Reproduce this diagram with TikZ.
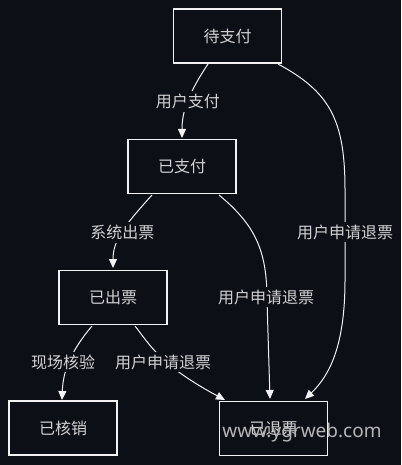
\documentclass[tikz,border=0pt]{standalone}
\usepackage{fontspec}
\setmainfont{Noto Sans CJK SC}
\newfontfamily\wmfont{Noto Sans}
\usetikzlibrary{arrows.meta}
\definecolor{bg}{HTML}{0D0F16}
\definecolor{txt}{HTML}{D2D2D2}
\definecolor{ln}{HTML}{F2F2F2}
\tikzset{
  state/.style={draw=ln, line width=1.4pt, fill=bg, text=txt, minimum width=108pt, minimum height=54pt, inner sep=0pt, font=\fontsize{16}{16}\selectfont},
  elabel/.style={fill=bg, text=txt, inner sep=3pt, font=\fontsize{16}{16}\selectfont},
  conn/.style={draw=ln, line width=1pt, -{Triangle[length=9pt,width=8pt]}},
}
\begin{document}
\begin{tikzpicture}[x=1pt,y=-1pt]
\fill[bg] (0,0) rectangle (401,465);
\useasboundingbox (0,0) rectangle (401,465);
% nodes
\node[state] (dzf) at (227.5,36) {待支付};
\node[state] (yzf) at (182,166.5) {已支付};
\node[state] (ycp) at (113,297.5) {已出票};
\node[state] (yhx) at (63,428) {已核销};
\node[state] (ytp) at (273.5,428.5) {已退票};
% edges
\draw[conn] (208,64) .. controls (188,94) and (182,112) .. (182,138)
  node[elabel, pos=0.48] (l1) {用户支付};
\draw[conn] (152,195) .. controls (125,225) and (113,240) .. (113,268)
  node[elabel, pos=0.5] (l2) {系统出票};
\draw[conn] (219,195) .. controls (255,225) and (267,250) .. (267,300) -- (270,399);
\node[elabel] (l3) at (266,297) {用户申请退票};
\draw[conn] (278,64) .. controls (330,92) and (345,120) .. (345,190) -- (345,280) .. controls (345,345) and (330,375) .. (305,399);
\node[elabel] (l4) at (345,232) {用户申请退票};
\draw[conn] (92,326) .. controls (70,352) and (63,372) .. (62,400);
\node[elabel] (l5) at (63,362) {现场核验};
\draw[conn] (135,326) .. controls (150,345) and (160,365) .. (225,400);
\node[elabel] (l6) at (163,362) {用户申请退票};
% watermark
\node[text=txt!85!bg, font=\wmfont\fontsize{19}{19}\selectfont, inner sep=0pt] (wm) at (302,433) {www.ygrweb.com};
\end{tikzpicture}
\end{document}
